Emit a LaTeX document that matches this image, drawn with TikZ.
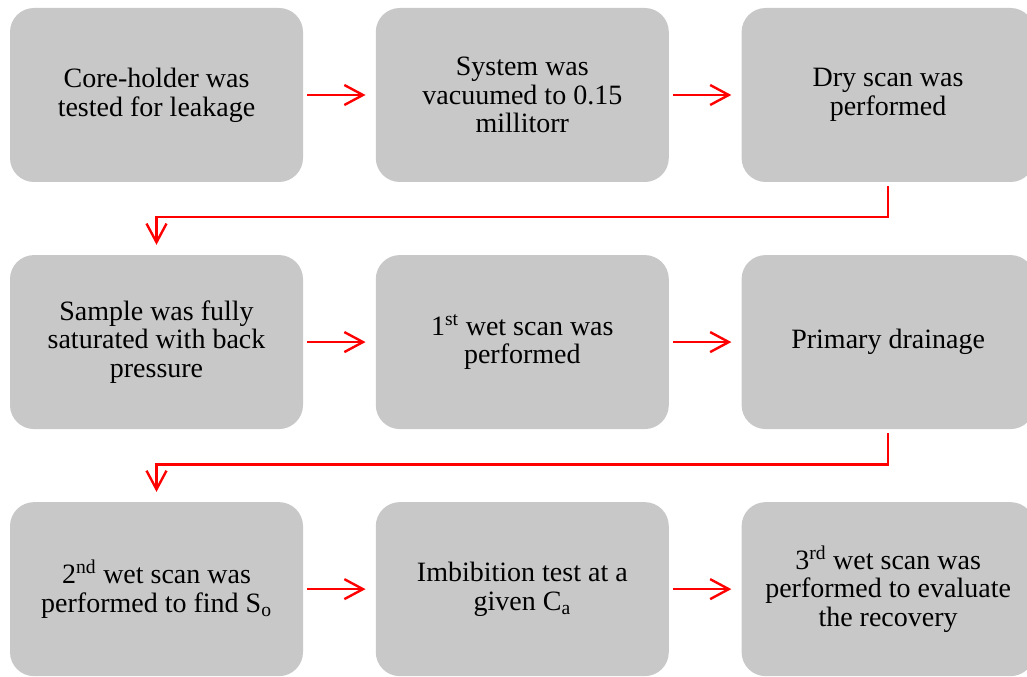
\documentclass[tikz,border=0pt]{standalone}
\usepackage{fontspec}
\setmainfont{Liberation Serif}
\usetikzlibrary{positioning,arrows.meta}

\definecolor{boxgray}{RGB}{200,200,200}
\definecolor{flowred}{RGB}{255,0,0}

\begin{document}
\begin{tikzpicture}[
	%	style def
    x=0.75pt, y=-0.75pt,
    node distance=54.4pt and 54.2pt,
    stepbox/.style={fill=boxgray, rounded corners=18pt, minimum width=219.75pt,
        minimum height=130.5pt, align=center, inner sep=0pt,
        font=\fontsize{21}{21.5}\selectfont},
    flow/.style={draw=flowred, line width=1.8pt,
        -{Straight Barb[length=14pt, width=15pt, line width=1.8pt]},
        shorten <=3pt, shorten >=7.5pt}
    ]
	\useasboundingbox (0,0) rectangle (1027,677);

	% first row
	\node[stepbox] (leak) at (156.5,95) {Core-holder was\\tested for leakage};
	\node[stepbox, right=of leak] (vacuum) {System was\\vacuumed to 0.15\\millitorr};
	\node[stepbox, right=of vacuum] (dry) {Dry scan was\\performed};

	% second row
	\node[stepbox, below=of leak] (sat) {Sample was fully\\saturated with back\\pressure};
	\node[stepbox, right=of sat] (wet1) {1\textsuperscript{st} wet scan was\\performed};
	\node[stepbox, right=of wet1] (drain) {Primary drainage};

	% third row
	\node[stepbox, below=of sat] (wet2) {2\textsuperscript{nd} wet scan was\\performed to find S\textsubscript{o}};
	\node[stepbox, right=of wet2] (imb) {Imbibition test at a\\given C\textsubscript{a}};
	\node[stepbox, right=of imb] (wet3) {3\textsuperscript{rd} wet scan was\\performed to evaluate\\the recovery};

	% connections
	\draw[flow] (leak) -- (vacuum);
	\draw[flow] (vacuum) -- (dry);
	\draw[flow] (dry.south) -- ++(0,35) -| (sat.north);
	\draw[flow] (sat) -- (wet1);
	\draw[flow] (wet1) -- (drain);
	\draw[flow] (drain.south) -- ++(0,35) -| (wet2.north);
	\draw[flow] (wet2) -- (imb);
	\draw[flow] (imb) -- (wet3);
\end{tikzpicture}
\end{document}
